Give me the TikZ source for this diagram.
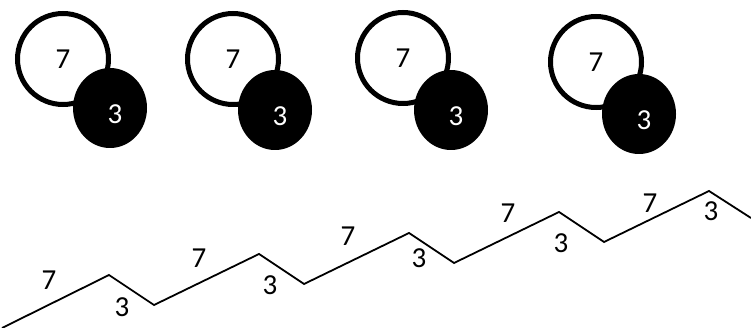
\documentclass[tikz,border=0pt]{standalone}
\usepackage{fontspec}
\setmainfont{Carlito}
\usetikzlibrary{shapes.geometric, calc}

\tikzset{
  ring/.style={circle, draw, line width=5pt, minimum size=91pt, inner sep=0pt, fill=white},
  blob/.style={ellipse, fill=black, minimum width=74pt, minimum height=80pt, inner sep=0pt},
  digit/.style={font=\fontsize{29}{32}\selectfont, inner sep=0pt},
  zig/.style={line width=1.8pt, line join=miter}
}

\begin{document}
\begin{tikzpicture}[x=1pt, y=-1pt]
        \useasboundingbox (0,0) rectangle (751,328);

        % Pairs of circles
        \foreach \n/\cx/\cy/\ex/\ey in {1/63/59/110/108, 2/233/59/275/110, 3/403/58/451/110, 4/596/62/639/114} {
            \node[ring, digit] (w\n) at (\cx,\cy) {7};
            \node[blob] (b\n) at (\ex,\ey) {};
            \node[digit, text=white] (n\n) at ($(b\n.center)+(5,6)$) {3};
        }

        % Zigzag corners
        \coordinate (s) at (2,328);
        \foreach \i in {0,1,2,3,4} {
            \coordinate (p\i) at (109+150*\i, 275-21*\i);
            \coordinate (v\i) at (154+150*\i, 305-21*\i);
        }
        \coordinate (e) at (751,218);
        \draw[zig] (s) -- (p0) -- (v0) -- (p1) -- (v1) -- (p2) -- (v2) -- (p3) -- (v3) -- (p4) -- (e);

        % Labels
        \foreach \n/\x/\y in {1/49/280, 2/199/258, 3/348/236, 4/508/213, 5/650/203}
            \node[digit] (u\n) at (\x,\y) {7};
        \foreach \n/\x/\y in {1/122/307, 2/270/285, 3/419/258, 4/561/243, 5/711/211}
            \node[digit] (d\n) at (\x,\y) {3};

    \end{tikzpicture}
\end{document}
